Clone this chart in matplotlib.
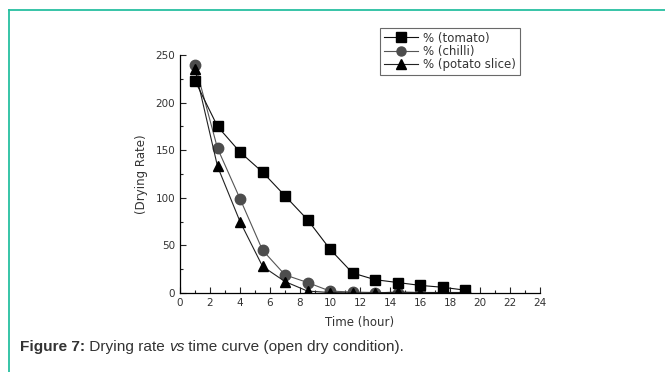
import matplotlib

matplotlib.use("Agg")
import matplotlib.pyplot as plt
from matplotlib.lines import Line2D
from matplotlib.ticker import MultipleLocator

plt.rcParams["font.family"] = ["DejaVu Sans"]

# data
time_hours = [1, 2.5, 4, 5.5, 7, 8.5, 10, 11.5, 13, 14.5, 16, 17.5, 19]
tomato = [223, 175, 148, 127, 102, 77, 46, 21, 14, 11, 8, 6, 3]
chilli = [240, 152, 99, 45, 19, 11, 2, 1, 0.5, 0.5, 0.5, 0.5, 0.5]
potato = [235, 133, 75, 28, 12, 2, 0.5, 0, 0, 1, 0.5, 0.5, 0.5]

labels = ["% (tomato)", "% (chilli)", "% (potato slice)"]

text_color = "#333333"

fig = plt.figure(figsize=(6.65, 3.72), dpi=100)
ax = fig.add_axes([0.2707, 0.2124, 0.5414, 0.6398])

ax.plot(time_hours, tomato, color="#111111", lw=0.8, marker="s", ms=7,
        mfc="black", mec="black", zorder=3)
ax.plot(time_hours, chilli, color="#555555", lw=0.8, marker="o", ms=7.5,
        mfc="#4d4d4d", mec="#4d4d4d", zorder=2)
ax.plot(time_hours, potato, color="#222222", lw=0.8, marker="^", ms=7.5,
        mfc="black", mec="black", zorder=2)

ax.set_xlim(0, 24)
ax.set_ylim(0, 250)
ax.xaxis.set_major_locator(MultipleLocator(2))
ax.xaxis.set_minor_locator(MultipleLocator(1))
ax.yaxis.set_major_locator(MultipleLocator(50))
ax.yaxis.set_minor_locator(MultipleLocator(25))
ax.tick_params(which="both", direction="in", labelsize=7.5, color="#222222",
               labelcolor=text_color, width=0.8)
ax.tick_params(which="major", length=4)
ax.tick_params(which="minor", length=2)
for side in ("top", "right"):
    ax.spines[side].set_visible(False)
for side in ("left", "bottom"):
    ax.spines[side].set_linewidth(0.9)
ax.set_xlabel("Time (hour)", fontsize=8.5, labelpad=6, color=text_color)
ax.set_ylabel("(Drying Rate)", fontsize=8.5, labelpad=5, color=text_color)

handles = [
    Line2D([], [], color="#111111", lw=0.8, marker="s", ms=6.5, mfc="black", mec="black"),
    Line2D([], [], color="#555555", lw=0.8, marker="o", ms=6.5, mfc="#4d4d4d", mec="#4d4d4d"),
    Line2D([], [], color="#222222", lw=0.8, marker="^", ms=6.5, mfc="black", mec="black"),
]
leg = fig.legend(handles, labels, loc="upper left",
                 bbox_to_anchor=(380 / 665, 1 - 28 / 372), fontsize=8.5,
                 frameon=True, fancybox=False, handlelength=2.9,
                 borderpad=0.3, labelspacing=0.02, handletextpad=0.45,
                 borderaxespad=0, labelcolor=text_color)
leg.get_frame().set_edgecolor("#444444")
leg.get_frame().set_linewidth(0.8)

# page border and caption
teal = "#26bfa0"
fig.add_artist(Line2D([8.5 / 665, 1], [1 - 9.5 / 372] * 2, color=teal, lw=1.3))
fig.add_artist(Line2D([8.5 / 665] * 2, [0, 1 - 9.5 / 372], color=teal, lw=1.3))

cap_font = ["Liberation Sans", "DejaVu Sans"]
cap_y = 1 - 351 / 372
t = fig.text(20 / 665, cap_y, "Figure 7:", fontsize=11.1, fontweight="bold",
             color=text_color, va="baseline", family=cap_font)
fig.canvas.draw()
x1 = t.get_window_extent().x1 / fig.bbox.width
t2 = fig.text(x1, cap_y, " Drying rate ", fontsize=11.1, color=text_color,
              va="baseline", family=cap_font)
fig.canvas.draw()
x2 = t2.get_window_extent().x1 / fig.bbox.width
t3 = fig.text(x2, cap_y, "vs", fontsize=11.1, style="italic", color=text_color,
              va="baseline", family=cap_font)
fig.canvas.draw()
x3 = t3.get_window_extent().x1 / fig.bbox.width
fig.text(x3, cap_y, " time curve (open dry condition).", fontsize=11.1,
         color=text_color, va="baseline", family=cap_font)

fig.savefig("out.png", dpi=100)
plt.close(fig)
